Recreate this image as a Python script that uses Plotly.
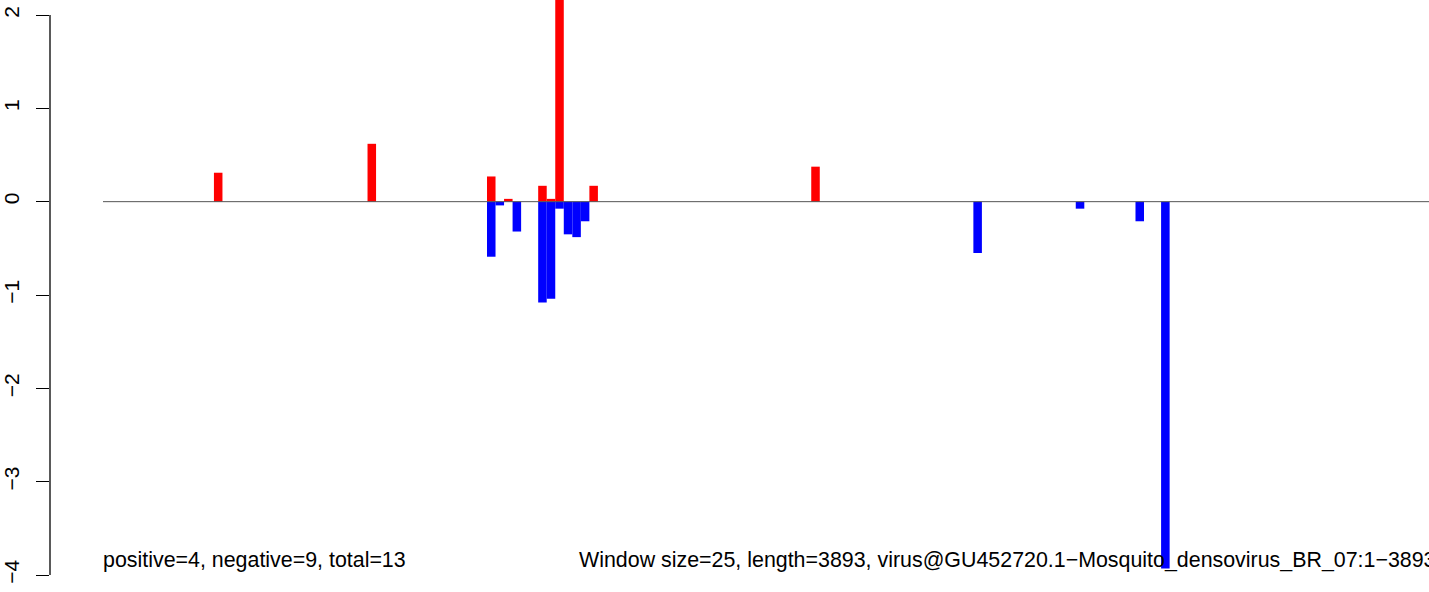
import plotly.graph_objects as go

# window indices (window size 25) and values
pos_idx = [13, 31, 45, 47, 51, 52, 53, 57, 83]
pos_val = [0.31, 0.62, 0.27, 0.03, 0.17, 0.03, 2.6, 0.17, 0.375]
neg_idx = [45, 46, 48, 51, 52, 53, 54, 55, 56, 102, 114, 121, 124]
neg_val = [-0.59, -0.04, -0.32, -1.08, -1.04, -0.075, -0.35, -0.38, -0.21, -0.55, -0.075, -0.21, -3.93]
y_ticks = [-4, -3, -2, -1, 0, 1, 2]
left_text = "positive=4, negative=9, total=13"
right_text = "Window size=25, length=3893, virus@GU452720.1\u2212Mosquito_densovirus_BR_07:1\u22123893"

W, H = 1429, 592
px_per_bar = 8.533
x0_px = 103
axis_px = 50
x_left = -(x0_px - axis_px) / px_per_bar
x_right = (W - x0_px) / px_per_bar
ppu = 93.33
y_top = 2 + 15 / ppu
y_bot = -4 - (H - 575) / ppu
text_y = -(560 - 202) / ppu

fig = go.Figure()
fig.add_trace(go.Bar(x=[i + 0.5 for i in pos_idx], y=pos_val, width=1,
                     marker=dict(color="#FF0000", line=dict(width=0))))
fig.add_trace(go.Bar(x=[i + 0.5 for i in neg_idx], y=neg_val, width=1,
                     marker=dict(color="#0000FF", line=dict(width=0))))

fig.add_shape(type="line", x0=0, x1=x_right, y0=0, y1=0,
              line=dict(color="#555555", width=1), layer="above")
fig.add_shape(type="line", xref="paper", x0=0, x1=0, y0=-4, y1=2,
              line=dict(color="black", width=1.3))

fig.add_annotation(x=0, y=text_y, xref="x", yref="y", text=left_text, showarrow=False,
                   xanchor="left", yanchor="middle", xshift=-2,
                   font=dict(size=21.4, color="black"))
fig.add_annotation(x=(579 - x0_px) / px_per_bar, y=text_y, xref="x", yref="y", text=right_text,
                   showarrow=False, xanchor="left", yanchor="middle", xshift=-2,
                   font=dict(size=21.4, color="black"))

fig.update_layout(
    width=W, height=H,
    margin=dict(l=axis_px, r=0, t=0, b=0),
    paper_bgcolor="white", plot_bgcolor="white",
    showlegend=False, barmode="overlay",
    font=dict(family="Liberation Sans, Arial, sans-serif", size=21, color="black"),
    xaxis=dict(range=[x_left, x_right], visible=False),
    yaxis=dict(range=[y_bot, y_top], tickvals=y_ticks, ticks="outside", ticklen=13,
               tickwidth=1.3, tickcolor="black", tickangle=-90, showgrid=False,
               zeroline=False, showline=False, tickfont=dict(size=21),
               ticklabelstandoff=9),
)
fig.write_html("out.html", config={"displayModeBar": False},
               post_script="document.body.style.margin='0';document.body.style.overflow='hidden';")
